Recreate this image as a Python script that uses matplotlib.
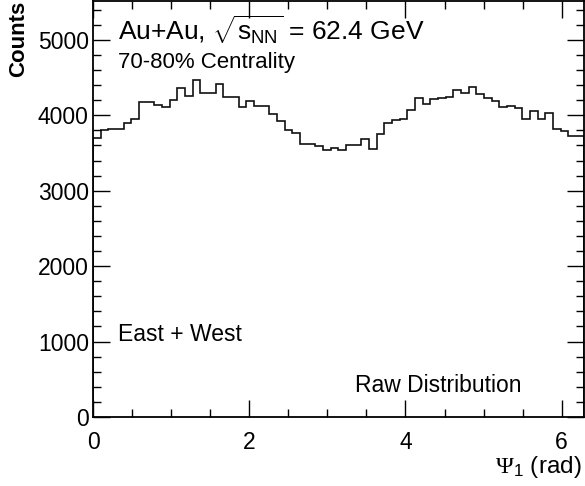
import numpy as np
import matplotlib
matplotlib.use("Agg")
import matplotlib.pyplot as plt
from matplotlib.ticker import MultipleLocator

plt.rcParams["font.family"] = ["Liberation Sans", "DejaVu Sans"]
plt.rcParams["mathtext.fontset"] = "custom"
plt.rcParams["mathtext.rm"] = "Liberation Serif"
plt.rcParams["mathtext.default"] = "regular"

# raw event-plane distribution, 64 bins over [0, 2pi]
counts = [
    3706, 3800, 3815, 3815, 3892, 3958, 4171, 4171, 4136, 4113,
    4202, 4357, 4260, 4468, 4295, 4295, 4415, 4238, 4238, 4105,
    4184, 4127, 4127, 4016, 3927, 3808, 3772, 3617, 3626, 3590,
    3542, 3564, 3537, 3604, 3613, 3684, 3551, 3759, 3896, 3941,
    3958, 4074, 4229, 4149, 4215, 4233, 4246, 4331, 4295, 4371,
    4282, 4229, 4193, 4105, 4118, 4091, 3958, 4060, 3949, 4025,
    3825, 3794, 3728, 3728,
]
edges = np.linspace(0, 2 * np.pi, len(counts) + 1)

fig = plt.figure(figsize=(5.85, 4.86), dpi=100)
ax = fig.add_axes([0.159, 0.142, 0.839, 0.855])

ax.stairs(counts, edges, color="#111111", linewidth=1.2)

ax.set_xlim(0, 2 * np.pi)
ax.set_ylim(0, 5510)
ax.xaxis.set_major_locator(MultipleLocator(2))
ax.xaxis.set_minor_locator(MultipleLocator(0.5))
ax.yaxis.set_major_locator(MultipleLocator(1000))
ax.yaxis.set_minor_locator(MultipleLocator(200))
ax.tick_params(which="both", direction="in", top=True, right=True, labelsize=16.5, width=1.0)
ax.tick_params(which="major", length=12)
ax.tick_params(which="minor", length=6)
ax.tick_params(axis="x", pad=10)
ax.tick_params(axis="y", pad=3)
for s in ax.spines.values():
    s.set_linewidth(1.3)

fig.text(0.031, 0.999, "Counts", fontsize=16, fontweight="bold", rotation=90,
         ha="center", va="top")
fig.text(582 / 585, 1 - 473 / 486, r"$\mathrm{\Psi}_1$ (rad)", fontsize=17.5,
         ha="right", va="baseline")

ax.text(0.051, 0.906, r"Au+Au, $\sqrt{s_{NN}}$ = 62.4 GeV", transform=ax.transAxes,
        fontsize=19, va="baseline", ha="left")
ax.text(0.051, 0.839, "70-80% Centrality", transform=ax.transAxes,
        fontsize=16, va="baseline", ha="left")
ax.text(0.051, 0.183, "East + West", transform=ax.transAxes,
        fontsize=16.5, va="baseline", ha="left")
ax.text(0.874, 0.060, "Raw Distribution", transform=ax.transAxes,
        fontsize=16.5, va="baseline", ha="right")

fig.savefig("out.png", dpi=100)
